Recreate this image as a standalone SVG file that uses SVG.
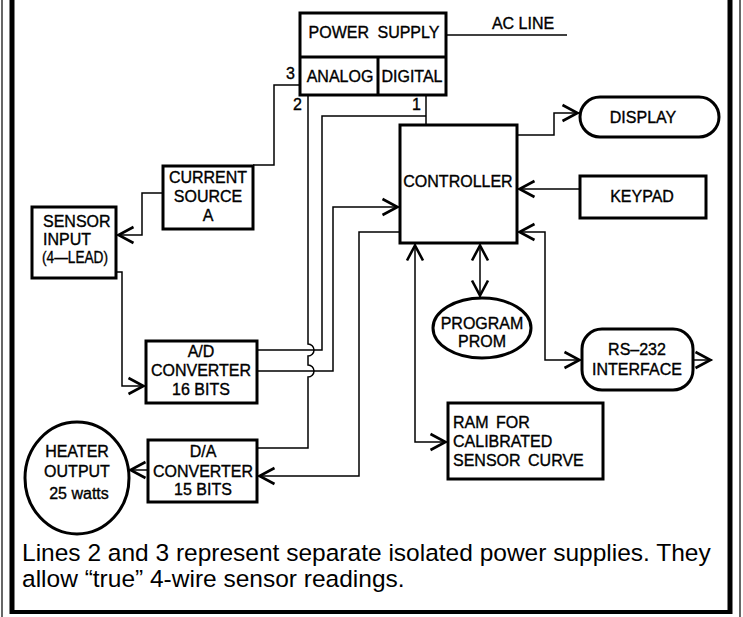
<svg xmlns="http://www.w3.org/2000/svg" width="743" height="617" viewBox="0 0 743 617">
<defs>
<style>
.box{fill:#fff;stroke:#000;stroke-width:3}
.thin{fill:none;stroke:#000;stroke-width:1.5}
.t{font-family:"Liberation Sans",Arial,sans-serif;font-size:16px;fill:#000;stroke:#000;stroke-width:0.35}
.c{text-anchor:middle}
.note{font-family:"Liberation Sans",Arial,sans-serif;font-size:24.5px;fill:#000}
</style>
<marker id="ah" viewBox="-18 -11 22 22" markerWidth="22" markerHeight="22" refX="1.5" refY="0" orient="auto-start-reverse" markerUnits="userSpaceOnUse">
<path d="M-15,-8 L0,0 L-15,8" fill="none" stroke="#000" stroke-width="2.6"/>
</marker>
</defs>
<rect width="743" height="617" fill="#fff"/>
<g id="frame">
<line x1="2" y1="0" x2="2" y2="617" stroke="#000" stroke-width="1.2"/>
<line x1="12" y1="0" x2="12" y2="614" stroke="#000" stroke-width="5"/>
<line x1="730" y1="0" x2="730" y2="614" stroke="#000" stroke-width="5"/>
<line x1="740" y1="0" x2="740" y2="617" stroke="#000" stroke-width="1.2"/>
<line x1="10" y1="612" x2="732" y2="612" stroke="#000" stroke-width="4"/>
</g>
<g id="connectors" class="thin">
<path d="M446,35 H567"/>
<path d="M300,85 H274 V165 H253"/>
<path d="M308,95 V344 A6,6 0 0 1 308,356 V365 A6,6 0 0 1 308,377 V448 H257"/>
<path d="M426,95 V125"/>
<path d="M426,116 H322 V350 H257"/>
<path d="M257,371 H333 V207 H399" marker-end="url(#ah)"/>
<path d="M400,232 H359 V476 H258" marker-end="url(#ah)"/>
<path d="M163,193 H142 V235 H117" marker-end="url(#ah)"/>
<path d="M116,272 H122 V386 H145" marker-end="url(#ah)"/>
<path d="M148,470 H129" marker-end="url(#ah)"/>
<path d="M517,135 H554 V113 H579" marker-end="url(#ah)"/>
<path d="M580,189 H518" marker-end="url(#ah)"/>
<path d="M518,232 H545 V360 H581" marker-start="url(#ah)" marker-end="url(#ah)"/>
<path d="M693,360 H712" marker-end="url(#ah)"/>
<path d="M480,244 V297" marker-start="url(#ah)" marker-end="url(#ah)"/>
<path d="M415,244 V442 H447" marker-start="url(#ah)" marker-end="url(#ah)"/>
</g>
<g id="labels">
<text class="t c" x="523" y="29">AC LINE</text>
<text class="t" x="286" y="79">3</text>
<text class="t" x="293" y="110">2</text>
<text class="t" x="412" y="110">1</text>
</g>
<g id="power-supply">
<rect class="box" x="300" y="13" width="146" height="82"/>
<line x1="300" y1="57" x2="446" y2="57" stroke="#000" stroke-width="3"/>
<line x1="378" y1="57" x2="378" y2="95" stroke="#000" stroke-width="3"/>
<text class="t c" x="374" y="38" word-spacing="4">POWER SUPPLY</text>
<text class="t c" x="340" y="82">ANALOG</text>
<text class="t c" x="412" y="82">DIGITAL</text>
</g>
<g id="current-source">
<rect class="box" x="163" y="166" width="90" height="63"/>
<text class="t c" x="208" y="183">CURRENT</text>
<text class="t c" x="208" y="202">SOURCE</text>
<text class="t c" x="208" y="221">A</text>
</g>
<g id="sensor-input">
<rect class="box" x="32" y="207" width="84" height="71"/>
<text class="t" x="43" y="227" font-size="14">SENSOR</text>
<text class="t" x="43" y="245" font-size="14">INPUT</text>
<text class="t" x="42" y="263" font-size="14" textLength="66" lengthAdjust="spacingAndGlyphs">(4—LEAD)</text>
</g>
<g id="ad-converter">
<rect class="box" x="146" y="341" width="111" height="62"/>
<text class="t c" x="201" y="357">A/D</text>
<text class="t c" x="201" y="376">CONVERTER</text>
<text class="t c" x="201" y="395">16 BITS</text>
</g>
<g id="da-converter">
<rect class="box" x="148" y="440" width="109" height="62" stroke-width="2.5"/>
<text class="t c" x="203" y="457">D/A</text>
<text class="t c" x="203" y="477">CONVERTER</text>
<text class="t c" x="203" y="495">15 BITS</text>
</g>
<g id="heater-output">
<ellipse class="box" cx="77" cy="478" rx="52" ry="56" stroke-width="2.5"/>
<text class="t c" x="77" y="457">HEATER</text>
<text class="t c" x="77" y="477">OUTPUT</text>
<text class="t c" x="79" y="499" font-size="15">25 watts</text>
</g>
<g id="controller">
<rect class="box" x="400" y="125" width="117" height="118"/>
<text class="t c" x="458" y="187" font-size="15">CONTROLLER</text>
</g>
<g id="display">
<rect class="box" x="580" y="97" width="139" height="40" rx="20"/>
<text class="t c" x="643" y="123">DISPLAY</text>
</g>
<g id="keypad">
<rect class="box" x="580" y="176" width="126" height="42" stroke-width="2.5"/>
<text class="t c" x="642" y="202">KEYPAD</text>
</g>
<g id="program-prom">
<ellipse class="box" cx="482" cy="328" rx="49" ry="30"/>
<text class="t c" x="482" y="329" font-size="15">PROGRAM</text>
<text class="t c" x="482" y="347" font-size="15">PROM</text>
</g>
<g id="rs232-interface">
<rect class="box" x="582" y="329" width="111" height="61" rx="20"/>
<text class="t c" x="637" y="355" font-size="15">RS–232</text>
<text class="t c" x="637" y="375">INTERFACE</text>
</g>
<g id="ram">
<rect class="box" x="448" y="403" width="155" height="76" stroke-width="2.5"/>
<text class="t" x="453" y="428" word-spacing="3">RAM FOR</text>
<text class="t" x="453" y="447">CALIBRATED</text>
<text class="t" x="453" y="466" word-spacing="3">SENSOR CURVE</text>
</g>
<g id="note">
<text class="note" x="22" y="561">Lines 2 and 3 represent separate isolated power supplies. They</text>
<text class="note" x="22" y="587">allow “true” 4-wire sensor readings.</text>
</g>
</svg>
